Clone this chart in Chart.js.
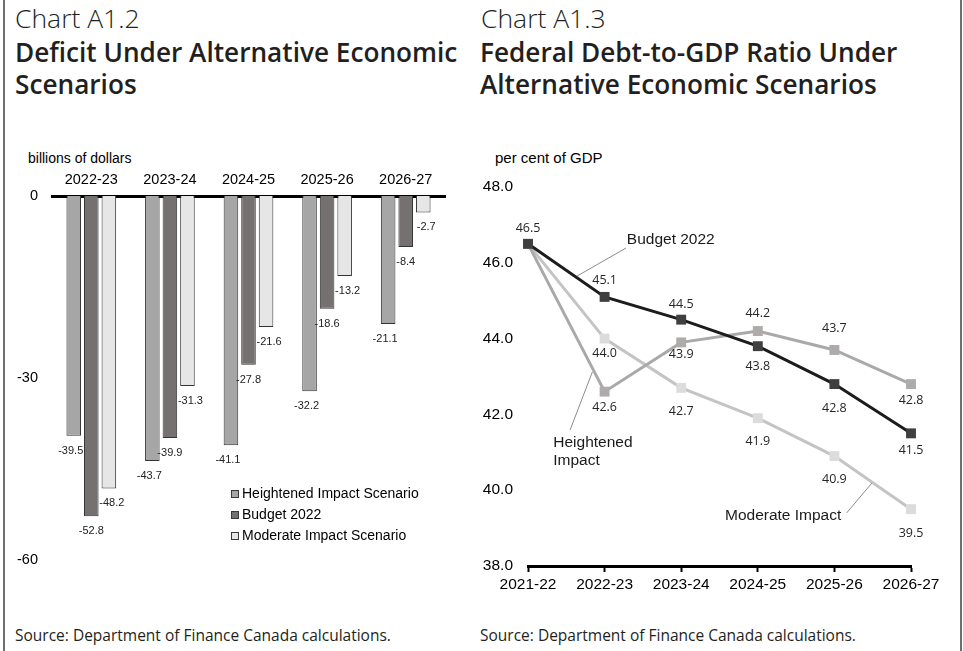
<!DOCTYPE html>
<html>
<head>
<meta charset="utf-8">
<script src="https://cdn.jsdelivr.net/npm/chart.js@4.4.1/dist/chart.umd.min.js"></script>
<style>
  html, body { margin: 0; padding: 0; background: #fff; }
  #wrap { position: relative; width: 963px; height: 651px; overflow: hidden; background: #fff; }
  .frame { position: absolute; top: 0; bottom: 0; width: 2px; background: #6e6e6e; z-index: 5; }
  .t { position: absolute; white-space: nowrap; color: #231f20; font-family: "Open Sans", sans-serif; line-height: 1; }
  .kicker { font-weight: 300; font-size: 26.5px; }
  .head { font-weight: 600; font-size: 26.2px; }
  .src { font-size: 15.5px; }
  .unit { font-family: "Liberation Sans", Arial, sans-serif; color: #000; }
  canvas { position: absolute; }
</style>
</head>
<body>
<div id="wrap">
  <div class="frame" style="left:3px"></div>
  <div class="frame" style="left:960px"></div>

  <div class="t kicker" style="left:15px; top:5px">Chart A1.2</div>
  <div class="t head" style="left:15px; top:39px">Deficit Under Alternative Economic</div>
  <div class="t head" style="left:15px; top:71px">Scenarios</div>
  <div class="t unit" style="left:28px; top:151px; font-size:14px">billions of dollars</div>
  <div class="t src" style="left:15px; top:628px">Source: Department of Finance Canada calculations.</div>

  <div class="t kicker" style="left:481px; top:5px">Chart A1.3</div>
  <div class="t head" style="left:480px; top:39px">Federal Debt-to-GDP Ratio Under</div>
  <div class="t head" style="left:480px; top:71px">Alternative Economic Scenarios</div>
  <div class="t unit" style="left:495px; top:150px; font-size:15px">per cent of GDP</div>
  <div class="t src" style="left:480px; top:628px">Source: Department of Finance Canada calculations.</div>

  <canvas id="deficit" width="480" height="460" style="left:0px; top:140px"></canvas>
  <canvas id="debt" width="493" height="460" style="left:470px; top:140px"></canvas>
</div>

<script>
// ---- Deficit (billions of dollars) ----
const deficitYears = ['2022-23', '2023-24', '2024-25', '2025-26', '2026-27'];
const deficitHeightened = [-39.5, -43.7, -41.1, -32.2, -21.1];
const deficitBudget = [-52.8, -39.9, -27.8, -18.6, -8.4];
const deficitModerate = [-48.2, -31.3, -21.6, -13.2, -2.7];
const deficitTicks = [0, -30, -60];

// ---- Federal debt-to-GDP ratio (per cent of GDP) ----
const debtYears = ['2021-22', '2022-23', '2023-24', '2024-25', '2025-26', '2026-27'];
const debtBudget = [46.5, 45.1, 44.5, 43.8, 42.8, 41.5];
const debtHeightened = [46.5, 42.6, 43.9, 44.2, 43.7, 42.8];
const debtModerate = [46.5, 44.0, 42.7, 41.9, 40.9, 39.5];
const debtTicks = [48, 46, 44, 42, 40, 38];

const TICK_FONT = 'Liberation Sans, Arial, sans-serif';

// Value labels under each bar end
const barLabels = {
  id: 'barLabels',
  afterDatasetsDraw(chart) {
    const ctx = chart.ctx;
    const shift = [-3, 0, 3];
    ctx.save();
    ctx.font = '11px ' + TICK_FONT;
    ctx.fillStyle = '#222';
    ctx.textAlign = 'center';
    ctx.textBaseline = 'middle';
    chart.data.datasets.forEach((ds, i) => {
      chart.getDatasetMeta(i).data.forEach((bar, j) => {
        ctx.fillText(ds.data[j].toFixed(1), bar.x + shift[i], bar.y + 15);
      });
    });
    ctx.restore();
  }
};

// Legend block inside the plot area
const boxLegend = {
  id: 'boxLegend',
  afterDraw(chart) {
    const ctx = chart.ctx;
    const a = chart.chartArea;
    const x0 = a.left + 179, y0 = a.top + 298, step = 21;
    ctx.save();
    ctx.font = '14px ' + TICK_FONT;
    ctx.textBaseline = 'middle';
    chart.data.datasets.forEach((ds, i) => {
      const y = y0 + i * step;
      ctx.fillStyle = ds.backgroundColor;
      ctx.fillRect(x0, y - 4, 8, 8);
      ctx.strokeStyle = '#3a3a3a';
      ctx.lineWidth = 1;
      ctx.strokeRect(x0 + 0.5, y - 3.5, 7, 7);
      ctx.fillStyle = '#000';
      ctx.fillText(ds.label, x0 + 11, y);
    });
    ctx.restore();
  }
};

new Chart(document.getElementById('deficit'), {
  type: 'bar',
  data: {
    labels: deficitYears,
    datasets: [
      { label: 'Heightened Impact Scenario', data: deficitHeightened, backgroundColor: '#a6a6a6' },
      { label: 'Budget 2022', data: deficitBudget, backgroundColor: '#767171' },
      { label: 'Moderate Impact Scenario', data: deficitModerate, backgroundColor: '#e7e6e6' }
    ]
  },
  options: {
    responsive: false,
    animation: false,
    layout: { padding: { left: 0, right: 35, top: 0, bottom: 40 } },
    datasets: {
      bar: { categoryPercentage: 0.67, barPercentage: 0.83, borderColor: '#333', borderWidth: 1 }
    },
    plugins: { legend: { display: false }, tooltip: { enabled: false } },
    scales: {
      x: {
        position: 'top',
        grid: { display: false, drawTicks: false },
        border: { display: true, color: '#000', width: 3 },
        ticks: { color: '#000', font: { family: TICK_FONT, size: 14.5 }, padding: 7, maxRotation: 0 },
        afterFit(s) { s.height = 56; }
      },
      y: {
        min: -60, max: 0,
        afterBuildTicks(s) { s.ticks = deficitTicks.map(v => ({ value: v })); },
        grid: { display: false, drawTicks: false },
        border: { display: false },
        ticks: { color: '#000', font: { family: TICK_FONT, size: 14.5 }, padding: 14 },
        afterFit(s) { s.width = 52; }
      }
    }
  },
  plugins: [barLabels, boxLegend]
});

// Point labels: signed pixel offset from the marker (null = no label)
const debtLabelOffsets = [
  [-15, -16, -15, 20, 24, 17],
  [null, 16, 12, -18, -22, 16],
  [null, 15, 24, 23, 23, 24]
];

const pointLabels = {
  id: 'pointLabels',
  afterDatasetsDraw(chart) {
    const ctx = chart.ctx;
    ctx.save();
    ctx.font = '12.5px "Open Sans", sans-serif';
    ctx.fillStyle = '#262626';
    ctx.textAlign = 'center';
    ctx.textBaseline = 'middle';
    chart.data.datasets.forEach((ds, i) => {
      chart.getDatasetMeta(i).data.forEach((pt, j) => {
        const off = debtLabelOffsets[i][j];
        if (off === null) return;
        ctx.fillText(ds.data[j].toFixed(1), pt.x, pt.y + off);
      });
    });
    ctx.restore();
  }
};

// Series call-outs with leader lines, placed in data space
const callouts = [
  { lines: ['Budget 2022'], at: [1.29, 46.6], align: 'left', lead: [[1.28, 46.39], [0.64, 45.65]] },
  { lines: ['Heightened', 'Impact'], at: [0.33, 41.25], align: 'left', lead: [[0.55, 41.59], [0.84, 43.12]] },
  { lines: ['Moderate Impact'], at: [4.09, 39.32], align: 'right', lead: [[4.16, 39.40], [4.49, 40.19]] }
];

const calloutPlugin = {
  id: 'callouts',
  afterDraw(chart) {
    const ctx = chart.ctx;
    const sx = chart.scales.x, sy = chart.scales.y;
    ctx.save();
    ctx.font = '15.5px ' + TICK_FONT;
    ctx.fillStyle = '#1a1a1a';
    ctx.textBaseline = 'middle';
    callouts.forEach(c => {
      ctx.textAlign = c.align;
      const x = sx.getPixelForValue(c.at[0]);
      const y = sy.getPixelForValue(c.at[1]);
      c.lines.forEach((ln, k) => ctx.fillText(ln, x, y + k * 18));
      ctx.strokeStyle = '#8c8c8c';
      ctx.lineWidth = 1;
      ctx.beginPath();
      ctx.moveTo(sx.getPixelForValue(c.lead[0][0]), sy.getPixelForValue(c.lead[0][1]));
      ctx.lineTo(sx.getPixelForValue(c.lead[1][0]), sy.getPixelForValue(c.lead[1][1]));
      ctx.stroke();
    });
    ctx.restore();
  }
};

new Chart(document.getElementById('debt'), {
  type: 'line',
  data: {
    labels: debtYears,
    datasets: [
      { label: 'Budget 2022', data: debtBudget, borderColor: '#1c1c1c', pointBackgroundColor: '#3f3f3f' },
      { label: 'Heightened Impact', data: debtHeightened, borderColor: '#a9a9a9', pointBackgroundColor: '#afabab' },
      { label: 'Moderate Impact', data: debtModerate, borderColor: '#c4c4c4', pointBackgroundColor: '#dcdcdc' }
    ]
  },
  options: {
    responsive: false,
    animation: false,
    layout: { padding: { left: 0, right: 52, top: 47, bottom: 0 } },
    elements: {
      line: { borderWidth: 3, tension: 0 },
      point: { pointStyle: 'rect', radius: 7, borderWidth: 0 }
    },
    plugins: { legend: { display: false }, tooltip: { enabled: false } },
    scales: {
      x: {
        offset: false,
        grid: { display: true, drawOnChartArea: false, drawTicks: true, tickLength: 6, tickColor: '#000', tickWidth: 2 },
        border: { display: true, color: '#000', width: 3 },
        ticks: { color: '#000', font: { family: TICK_FONT, size: 15.5 }, padding: 3, maxRotation: 0 },
        afterFit(s) { s.height = 34; }
      },
      y: {
        min: 38, max: 48,
        afterBuildTicks(s) { s.ticks = debtTicks.map(v => ({ value: v })); },
        grid: { display: false, drawTicks: false },
        border: { display: false },
        ticks: { color: '#000', font: { family: TICK_FONT, size: 15.5 }, padding: 15, callback: v => v.toFixed(1) },
        afterFit(s) { s.width = 58; }
      }
    }
  },
  plugins: [pointLabels, calloutPlugin]
});
</script>
</body>
</html>
